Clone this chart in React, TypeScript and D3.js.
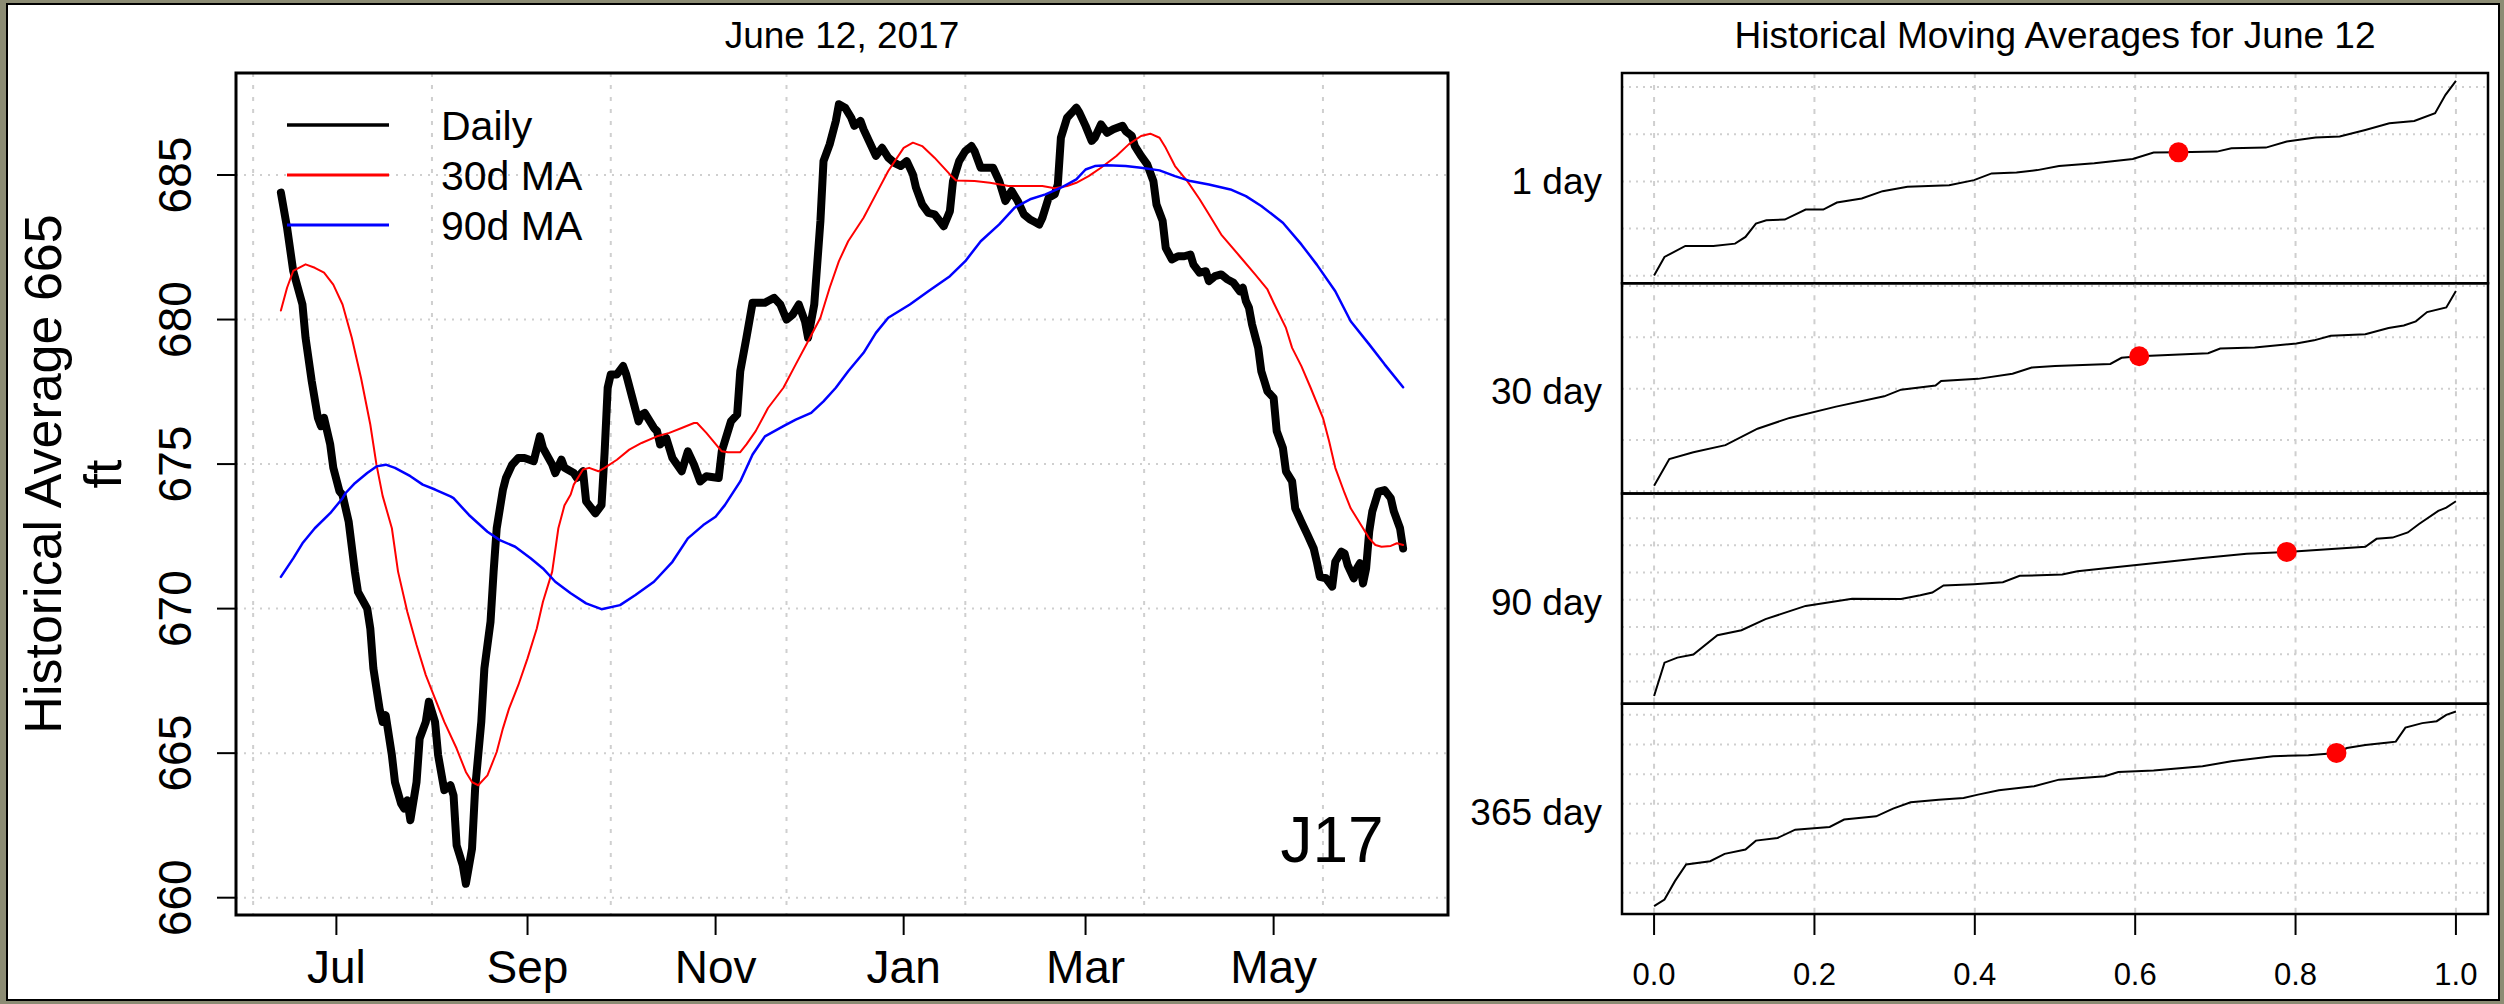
import React from 'react';
import * as d3 from 'd3';

// day index 0 = 2016-06-12
const START = new Date(2016, 5, 12);

const dailyDays = [1, 3, 5, 8, 9, 11, 13, 14, 15, 17, 18, 20, 21, 23, 25, 26, 29, 30, 31, 33, 34, 35, 37, 38, 40, 41, 42, 43, 45, 46, 48, 49, 51, 52, 54, 56, 57, 58, 60, 61, 63, 64, 66, 67, 69, 70, 71, 73, 74, 76, 78, 80, 83, 85, 86, 89, 90, 92, 93, 96, 97, 99, 100, 103, 105, 106, 107, 108, 110, 112, 113, 115, 117, 118, 119, 122, 123, 124, 126, 128, 131, 133, 135, 137, 139, 143, 144, 147, 149, 150, 152, 154, 158, 159, 161, 163, 165, 167, 169, 171, 172, 174, 176, 177, 179, 181, 182, 184, 186, 187, 189, 190, 192, 194, 196, 198, 200, 202, 204, 206, 207, 209, 211, 213, 216, 218, 219, 221, 223, 225, 226, 228, 230, 232, 234, 236, 238, 240, 242, 244, 246, 247, 248, 250, 252, 253, 254, 256, 258, 259, 260, 262, 264, 265, 267, 269, 271, 274, 275, 277, 278, 280, 282, 284, 285, 287, 288, 290, 292, 294, 296, 297, 299, 301, 302, 304, 306, 308, 310, 312, 313, 314, 315, 316, 318, 319, 320, 321, 323, 324, 326, 327, 329, 330, 332, 334, 336, 337, 338, 340, 342, 343, 345, 346, 347, 349, 350, 351, 352, 353, 354, 355, 357, 359, 361, 362, 364, 365];
const dailyVals = [684.39, 683.18, 681.68, 680.52, 679.37, 677.87, 676.6, 676.31, 676.6, 675.68, 674.87, 674.06, 673.93, 673.0, 671.28, 670.58, 670.0, 669.31, 667.93, 666.54, 666.08, 666.31, 664.93, 664.0, 663.25, 663.08, 663.37, 662.68, 664.0, 665.5, 666.08, 666.78, 666.08, 664.93, 663.72, 663.89, 663.54, 661.81, 661.12, 660.48, 661.7, 663.77, 666.08, 667.93, 669.55, 671.28, 672.78, 674.1, 674.52, 674.98, 675.21, 675.21, 675.1, 675.96, 675.56, 674.98, 674.69, 675.15, 674.87, 674.69, 674.52, 674.75, 673.71, 673.3, 673.58, 675.4, 677.64, 678.1, 678.1, 678.39, 678.1, 677.29, 676.48, 676.71, 676.77, 676.25, 676.14, 675.68, 675.9, 675.21, 674.75, 675.44, 674.98, 674.4, 674.58, 674.52, 675.44, 676.48, 676.71, 678.21, 679.37, 680.58, 680.58, 680.64, 680.75, 680.52, 680.0, 680.17, 680.52, 679.94, 679.37, 680.52, 683.41, 685.48, 686.06, 686.87, 687.45, 687.33, 686.98, 686.7, 686.87, 686.58, 686.12, 685.66, 685.94, 685.6, 685.42, 685.31, 685.48, 685.02, 684.56, 683.98, 683.69, 683.64, 683.23, 683.75, 684.79, 685.48, 685.83, 686.0, 685.83, 685.25, 685.25, 685.25, 684.79, 684.1, 684.45, 684.1, 683.64, 683.46, 683.35, 683.29, 683.52, 684.21, 684.33, 684.67, 686.29, 686.98, 687.21, 687.33, 687.16, 686.7, 686.18, 686.29, 686.75, 686.46, 686.58, 686.7, 686.52, 686.35, 686.0, 685.66, 685.37, 684.79, 683.98, 683.41, 682.48, 682.08, 682.19, 682.19, 682.25, 681.9, 681.62, 681.67, 681.33, 681.5, 681.56, 681.39, 681.27, 680.98, 681.1, 680.64, 680.41, 679.83, 679.02, 678.21, 677.87, 677.52, 677.29, 676.14, 675.56, 674.75, 674.4, 673.47, 673.0, 672.55, 672.08, 671.62, 671.1, 671.05, 670.76, 671.62, 671.97, 671.91, 671.51, 671.05, 671.39, 671.57, 670.87, 671.39, 672.66, 673.36, 674.05, 674.1, 673.82, 673.36, 672.78, 672.08];

const ma30Days = [1, 3, 5, 9, 12, 15, 18, 21, 24, 27, 30, 32, 34, 37, 39, 42, 45, 48, 51, 54, 58, 61, 63, 65, 68, 71, 73, 75, 78, 81, 84, 86, 89, 91, 93, 95, 96, 99, 101, 104, 106, 110, 114, 118, 123, 127, 131, 135, 136, 139, 144, 146, 150, 152, 155, 159, 164, 168, 172, 176, 179, 182, 185, 190, 194, 198, 203, 206, 209, 213, 218, 220, 226, 231, 237, 248, 252, 256, 259, 263, 267, 272, 276, 280, 283, 286, 288, 291, 295, 299, 302, 306, 312, 317, 321, 323, 327, 329, 332, 335, 339, 341, 343, 346, 348, 352, 354, 356, 358, 361, 363, 365];
const ma30Vals = [680.31, 681.1, 681.68, 681.91, 681.79, 681.62, 681.21, 680.52, 679.37, 677.98, 676.37, 674.98, 673.9, 672.78, 671.28, 669.89, 668.74, 667.7, 666.89, 666.08, 665.16, 664.35, 664.0, 663.89, 664.23, 665.04, 665.85, 666.54, 667.35, 668.28, 669.31, 670.24, 671.28, 672.78, 673.58, 673.95, 674.29, 674.81, 674.87, 674.75, 674.87, 675.15, 675.5, 675.73, 675.96, 676.08, 676.25, 676.42, 676.42, 676.08, 675.44, 675.41, 675.41, 675.68, 676.14, 676.94, 677.64, 678.45, 679.25, 680.06, 681.1, 682.02, 682.71, 683.52, 684.33, 685.14, 685.94, 686.12, 686.0, 685.6, 685.02, 684.81, 684.79, 684.73, 684.62, 684.62, 684.54, 684.62, 684.73, 684.96, 685.25, 685.66, 686.06, 686.35, 686.43, 686.29, 685.94, 685.31, 684.79, 684.16, 683.64, 682.94, 682.19, 681.56, 681.04, 680.58, 679.71, 679.02, 678.39, 677.64, 676.6, 675.79, 674.87, 674.0, 673.47, 672.78, 672.43, 672.2, 672.14, 672.17, 672.26, 672.2];

const ma90Days = [1, 5, 8, 12, 17, 21, 22, 25, 29, 32, 35, 38, 43, 47, 51, 56, 57, 62, 68, 72, 77, 82, 86, 90, 95, 100, 105, 111, 116, 122, 128, 133, 138, 142, 145, 150, 154, 158, 164, 168, 173, 177, 181, 185, 190, 194, 198, 205, 211, 218, 223, 228, 234, 239, 244, 249, 254, 259, 262, 265, 269, 275, 280, 286, 291, 296, 302, 309, 314, 319, 326, 332, 337, 343, 348, 354, 359, 365];
const ma90Vals = [671.1, 671.74, 672.26, 672.78, 673.3, 673.82, 674.0, 674.34, 674.69, 674.92, 674.98, 674.87, 674.58, 674.29, 674.12, 673.88, 673.82, 673.24, 672.66, 672.37, 672.14, 671.74, 671.39, 670.93, 670.53, 670.18, 669.98, 670.12, 670.47, 670.93, 671.62, 672.43, 672.89, 673.18, 673.58, 674.4, 675.33, 675.96, 676.31, 676.54, 676.77, 677.17, 677.64, 678.21, 678.85, 679.54, 680.06, 680.52, 680.98, 681.5, 682.02, 682.71, 683.29, 683.87, 684.16, 684.33, 684.56, 684.85, 685.19, 685.31, 685.34, 685.31, 685.25, 685.16, 684.96, 684.79, 684.67, 684.5, 684.27, 683.93, 683.35, 682.6, 681.9, 680.98, 679.94, 679.14, 678.45, 677.66];

const monthDates = ['2016-07-01', '2016-09-01', '2016-11-01', '2017-01-01', '2017-03-01', '2017-05-01'];
const monthLabels = ['Jul', 'Sep', 'Nov', 'Jan', 'Mar', 'May'];
const gridDays = [-8, 50, 108, 165, 223, 281, 339];

const seriesNames = ['Daily', '30d MA', '90d MA'];
const seriesColors = ['#000000', '#ff0000', '#0000ff'];

// historical moving averages, sorted, against quantile
const panelLabels = ['1 day', '30 day', '90 day', '365 day'];
const q1 = [0, 0.013, 0.039, 0.074, 0.101, 0.114, 0.127, 0.14, 0.163, 0.189, 0.211, 0.228, 0.259, 0.285, 0.316, 0.368, 0.399, 0.421, 0.452, 0.478, 0.505, 0.549, 0.597, 0.623, 0.654, 0.702, 0.72, 0.763, 0.789, 0.825, 0.855, 0.887, 0.917, 0.948, 0.974, 0.987, 1];
const v1 = [640.06, 643.98, 646.32, 646.32, 646.81, 648.23, 651.06, 651.77, 651.91, 654.04, 654.04, 655.53, 656.38, 657.94, 658.87, 659.21, 660.28, 661.7, 661.91, 662.4, 663.26, 663.83, 664.74, 666.11, 666.17, 666.32, 667.02, 667.17, 668.45, 669.3, 669.51, 670.91, 672.34, 672.83, 674.47, 678.36, 681.34];
const q2 = [0, 0.019, 0.049, 0.089, 0.129, 0.169, 0.227, 0.287, 0.308, 0.351, 0.358, 0.404, 0.447, 0.471, 0.5, 0.569, 0.583, 0.605, 0.691, 0.706, 0.749, 0.801, 0.823, 0.844, 0.887, 0.916, 0.935, 0.95, 0.964, 0.988, 1];
const v2 = [641.1, 646.3, 647.6, 649.0, 652.2, 654.3, 656.5, 658.5, 659.8, 660.6, 661.5, 661.9, 662.9, 664.1, 664.4, 664.8, 666.0, 666.3, 666.9, 667.8, 668.0, 668.8, 669.4, 670.3, 670.6, 671.8, 672.3, 673.1, 674.9, 675.8, 679.0];
const q3 = [0, 0.013, 0.029, 0.049, 0.079, 0.109, 0.139, 0.189, 0.247, 0.308, 0.332, 0.347, 0.361, 0.399, 0.435, 0.456, 0.509, 0.528, 0.566, 0.643, 0.681, 0.739, 0.789, 0.887, 0.901, 0.921, 0.94, 0.954, 0.978, 0.988, 1];
const v3 = [660.93, 663.38, 663.75, 663.98, 665.39, 665.76, 666.58, 667.55, 668.07, 668.05, 668.33, 668.53, 669.05, 669.15, 669.29, 669.76, 669.86, 670.1, 670.33, 670.81, 671.05, 671.38, 671.52, 671.9, 672.48, 672.57, 672.95, 673.57, 674.53, 674.77, 675.24];
const q4 = [0, 0.013, 0.026, 0.04, 0.07, 0.088, 0.114, 0.127, 0.154, 0.176, 0.219, 0.237, 0.277, 0.298, 0.32, 0.355, 0.386, 0.404, 0.43, 0.474, 0.505, 0.562, 0.579, 0.623, 0.684, 0.72, 0.772, 0.816, 0.851, 0.864, 0.887, 0.916, 0.925, 0.937, 0.958, 0.976, 0.988, 1];
const v4 = [649.1, 649.55, 650.79, 651.91, 652.13, 652.63, 652.92, 653.52, 653.7, 654.26, 654.44, 654.94, 655.16, 655.68, 656.11, 656.28, 656.4, 656.62, 656.92, 657.19, 657.63, 657.86, 658.15, 658.24, 658.53, 658.87, 659.21, 659.27, 659.43, 659.76, 659.97, 660.14, 660.19, 661.14, 661.44, 661.57, 662.0, 662.22];
const dotQ = [0.654, 0.605, 0.789, 0.851];
const dotV = [666.17, 666.3, 671.52, 659.43];

const FONT = '"Liberation Sans", Arial, Helvetica, sans-serif';

const pad = (lo: number, hi: number): [number, number] => {
  const r = hi - lo;
  return [lo - 0.04 * r, hi + 0.04 * r];
};

export default function App() {
  const W = 2504;
  const H = 1004;

  // left panel
  const L = { x0: 236, x1: 1448, y0: 73, y1: 915 };
  const x = d3.scaleLinear().domain(pad(1, 365)).range([L.x0, L.x1]);
  const allVals = [...dailyVals, ...ma30Vals, ...ma90Vals];
  const y = d3.scaleLinear().domain(pad(d3.min(allVals)!, d3.max(allVals)!)).range([L.y1, L.y0]);
  const yTicks = y.ticks(5);
  const monthIdx = monthDates.map(s => d3.timeDay.count(START, d3.timeParse('%Y-%m-%d')(s)!));

  const line = d3.line<[number, number]>().x(d => x(d[0])).y(d => y(d[1]));
  const series = [
    { days: dailyDays, vals: dailyVals, w: 8 },
    { days: ma30Days, vals: ma30Vals, w: 2 },
    { days: ma90Days, vals: ma90Vals, w: 2.5 },
  ];

  // right panels
  const R = { x0: 1622, x1: 2488, y0: 73, y1: 914 };
  const ph = (R.y1 - R.y0) / 4;
  const xr = d3.scaleLinear().domain(pad(0, 1)).range([R.x0, R.x1]);
  const xrTicks = xr.ticks(5);
  const panels = [
    { q: q1, v: v1 },
    { q: q2, v: v2 },
    { q: q3, v: v3 },
    { q: q4, v: v4 },
  ];

  const gridStyle = { stroke: '#cfcfcf', strokeWidth: 2 };

  return (
    <svg width={W} height={H} style={{ position: 'fixed', left: 0, top: 0, display: 'block' }} fontFamily={FONT}>
      <rect x={0} y={0} width={W} height={H} fill="#8c8c74" />
      <rect x={7} y={4} width={W - 12} height={H - 8} fill="#ffffff" stroke="#000" strokeWidth={2} />

      {/* ---------- left: daily elevation ---------- */}
      <text x={(L.x0 + L.x1) / 2} y={48} fontSize={37} textAnchor="middle">June 12, 2017</text>
      <g>
        {gridDays.map(g => (
          <line key={'gv' + g} x1={x(g)} x2={x(g)} y1={L.y0} y2={L.y1} {...gridStyle} strokeDasharray="4 8" />
        ))}
        {yTicks.map(t => (
          <line key={'gh' + t} x1={L.x0} x2={L.x1} y1={y(t)} y2={y(t)} {...gridStyle} strokeDasharray="2 6" />
        ))}
      </g>
      {series.map((s, i) => (
        <path key={'s' + i}
          d={line(s.days.map((d, j) => [d, s.vals[j]] as [number, number]))!}
          fill="none" stroke={seriesColors[i]} strokeWidth={s.w} strokeLinejoin="round" strokeLinecap="round" />
      ))}
      <rect x={L.x0} y={L.y0} width={L.x1 - L.x0} height={L.y1 - L.y0} fill="none" stroke="#000" strokeWidth={3} />
      {yTicks.map(t => (
        <g key={'yt' + t}>
          <line x1={L.x0 - 19} x2={L.x0} y1={y(t)} y2={y(t)} stroke="#000" strokeWidth={2} />
          <text transform={`translate(${191},${y(t)}) rotate(-90)`} fontSize={46} textAnchor="middle">{t}</text>
        </g>
      ))}
      {monthIdx.map((m, i) => (
        <g key={'xt' + i}>
          <line x1={x(m)} x2={x(m)} y1={L.y1} y2={L.y1 + 20} stroke="#000" strokeWidth={2} />
          <text x={x(m)} y={983} fontSize={46} textAnchor="middle">{monthLabels[i]}</text>
        </g>
      ))}
      <text transform={`translate(61,474) rotate(-90)`} fontSize={52} textAnchor="middle">Historical Average 665</text>
      <text transform={`translate(121,474) rotate(-90)`} fontSize={52} textAnchor="middle">ft</text>

      {/* legend */}
      {seriesNames.map((n, i) => (
        <g key={'lg' + i}>
          <line x1={287} x2={389} y1={125 + i * 50} y2={125 + i * 50} stroke={seriesColors[i]} strokeWidth={i === 0 ? 3.5 : 3} />
          <text x={441} y={140 + i * 50} fontSize={41}>{n}</text>
        </g>
      ))}
      <text x={1332} y={862} fontSize={64} textAnchor="middle">J17</text>

      {/* ---------- right: historical moving averages ---------- */}
      <text x={(R.x0 + R.x1) / 2} y={48} fontSize={37} textAnchor="middle">Historical Moving Averages for June 12</text>
      {panels.map((p, i) => {
        const top = R.y0 + i * ph;
        const bot = top + ph;
        const yr = d3.scaleLinear().domain(pad(d3.min(p.v)!, d3.max(p.v)!)).range([bot, top]);
        const ln = d3.line<number>().x((_, j) => xr(p.q[j])).y(v => yr(v));
        return (
          <g key={'p' + i}>
            {xrTicks.map(t => (
              <line key={'v' + t} x1={xr(t)} x2={xr(t)} y1={top} y2={bot} {...gridStyle} strokeDasharray="5 7" />
            ))}
            {yr.ticks(5).map(t => (
              <line key={'h' + t} x1={R.x0} x2={R.x1} y1={yr(t)} y2={yr(t)} {...gridStyle} strokeDasharray="2 5" />
            ))}
            <path d={ln(p.v)!} fill="none" stroke="#000" strokeWidth={2} />
            <circle cx={xr(dotQ[i])} cy={yr(dotV[i])} r={10} fill="#ff0000" />
            <rect x={R.x0} y={top} width={R.x1 - R.x0} height={ph} fill="none" stroke="#000" strokeWidth={2.5} />
            <text x={1602} y={(top + bot) / 2 + 16} fontSize={37} textAnchor="end">{panelLabels[i]}</text>
          </g>
        );
      })}
      {xrTicks.map(t => (
        <g key={'rx' + t}>
          <line x1={xr(t)} x2={xr(t)} y1={R.y1} y2={R.y1 + 21} stroke="#000" strokeWidth={2} />
          <text x={xr(t)} y={985} fontSize={31} textAnchor="middle">{d3.format('.1f')(t)}</text>
        </g>
      ))}
    </svg>
  );
}
